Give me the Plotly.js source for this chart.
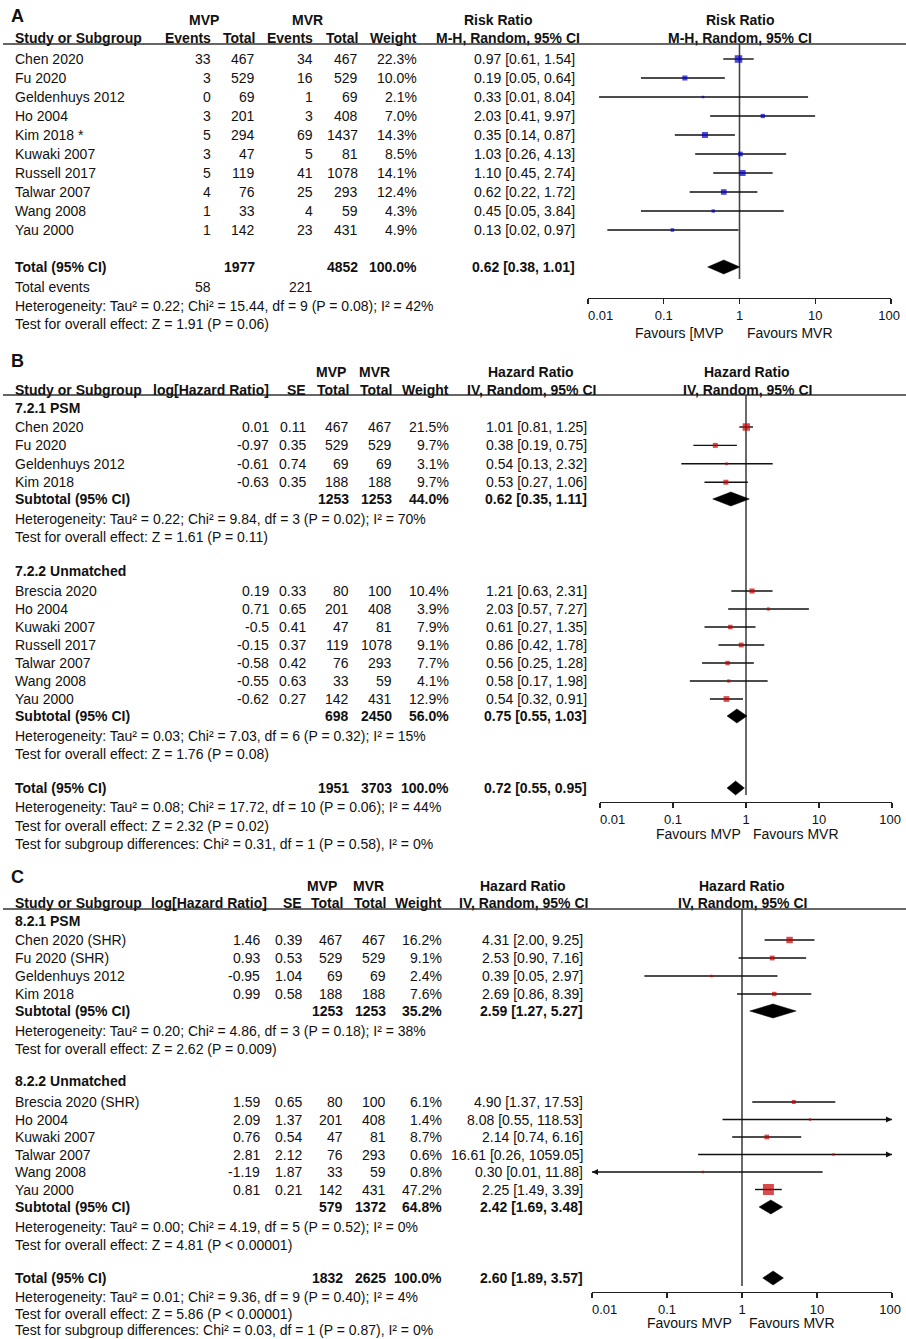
<!DOCTYPE html>
<html><head><meta charset="utf-8">
<script src="https://cdn.plot.ly/plotly-3.0.1.min.js"></script>
<style>html,body{margin:0;padding:0;background:#fff}#chart{width:906px;height:1339px}</style>
</head><body><div id="chart"></div>
<script>
// ================= DATA =================
// ---- Panel A (Risk Ratio, M-H random) ----
const studiesA = ["Chen 2020","Fu 2020","Geldenhuys 2012","Ho 2004","Kim 2018 *","Kuwaki 2007","Russell 2017","Talwar 2007","Wang 2008","Yau 2000"];
const mvpEventsA = [33,3,0,3,5,3,5,4,1,1];
const mvpTotalA = [467,529,69,201,294,47,119,76,33,142];
const mvrEventsA = [34,16,1,3,69,5,41,25,4,23];
const mvrTotalA = [467,529,69,408,1437,81,1078,293,59,431];
const weightA = [22.3,10.0,2.1,7.0,14.3,8.5,14.1,12.4,4.3,4.9];
const rrA = [0.97,0.19,0.33,2.03,0.35,1.03,1.10,0.62,0.45,0.13];
const lowA = [0.61,0.05,0.014,0.41,0.14,0.26,0.45,0.22,0.05,0.018];
const highA = [1.54,0.64,8.04,9.97,0.87,4.13,2.74,1.72,3.84,0.97];
const totalA = {mvpEvents:58, mvrEvents:221, mvpTotal:1977, mvrTotal:4852, weight:100.0, est:0.62, low:0.38, high:1.01};
const hetA = "Heterogeneity: Tau² = 0.22; Chi² = 15.44, df = 9 (P = 0.08); I² = 42%";
const testA = "Test for overall effect: Z = 1.91 (P = 0.06)";

// ---- Panel B (Hazard Ratio) ----
const studiesB1 = ["Chen 2020","Fu 2020","Geldenhuys 2012","Kim 2018"];
const logHRB1 = [0.01,-0.97,-0.61,-0.63];
const seB1 = [0.11,0.35,0.74,0.35];
const mvpB1 = [467,529,69,188];
const mvrB1 = [467,529,69,188];
const weightB1 = [21.5,9.7,3.1,9.7];
const hrB1 = [1.01,0.38,0.54,0.53];
const lowB1 = [0.81,0.19,0.13,0.27];
const highB1 = [1.25,0.75,2.32,1.06];
const subB1 = {mvp:1253, mvr:1253, weight:44.0, est:0.62, low:0.35, high:1.11};
const hetB1 = "Heterogeneity: Tau² = 0.22; Chi² = 9.84, df = 3 (P = 0.02); I² = 70%";
const testB1 = "Test for overall effect: Z = 1.61 (P = 0.11)";

const studiesB2 = ["Brescia 2020","Ho 2004","Kuwaki 2007","Russell 2017","Talwar 2007","Wang 2008","Yau 2000"];
const logHRB2 = [0.19,0.71,-0.5,-0.15,-0.58,-0.55,-0.62];
const seB2 = [0.33,0.65,0.41,0.37,0.42,0.63,0.27];
const mvpB2 = [80,201,47,119,76,33,142];
const mvrB2 = [100,408,81,1078,293,59,431];
const weightB2 = [10.4,3.9,7.9,9.1,7.7,4.1,12.9];
const hrB2 = [1.21,2.03,0.61,0.86,0.56,0.58,0.54];
const lowB2 = [0.63,0.57,0.27,0.42,0.25,0.17,0.32];
const highB2 = [2.31,7.27,1.35,1.78,1.28,1.98,0.91];
const subB2 = {mvp:698, mvr:2450, weight:56.0, est:0.75, low:0.55, high:1.03};
const hetB2 = "Heterogeneity: Tau² = 0.03; Chi² = 7.03, df = 6 (P = 0.32); I² = 15%";
const testB2 = "Test for overall effect: Z = 1.76 (P = 0.08)";

const totalB = {mvp:1951, mvr:3703, weight:100.0, est:0.72, low:0.55, high:0.95};
const footB = ["Heterogeneity: Tau² = 0.08; Chi² = 17.72, df = 10 (P = 0.06); I² = 44%",
               "Test for overall effect: Z = 2.32 (P = 0.02)",
               "Test for subgroup differences: Chi² = 0.31, df = 1 (P = 0.58), I² = 0%"];

// ---- Panel C (Hazard Ratio) ----
const studiesC1 = ["Chen 2020 (SHR)","Fu 2020 (SHR)","Geldenhuys 2012","Kim 2018"];
const logHRC1 = [1.46,0.93,-0.95,0.99];
const seC1 = [0.39,0.53,1.04,0.58];
const mvpC1 = [467,529,69,188];
const mvrC1 = [467,529,69,188];
const weightC1 = [16.2,9.1,2.4,7.6];
const hrC1 = [4.31,2.53,0.39,2.69];
const lowC1 = [2.00,0.90,0.05,0.86];
const highC1 = [9.25,7.16,2.97,8.39];
const subC1 = {mvp:1253, mvr:1253, weight:35.2, est:2.59, low:1.27, high:5.27};
const hetC1 = "Heterogeneity: Tau² = 0.20; Chi² = 4.86, df = 3 (P = 0.18); I² = 38%";
const testC1 = "Test for overall effect: Z = 2.62 (P = 0.009)";

const studiesC2 = ["Brescia 2020 (SHR)","Ho 2004","Kuwaki 2007","Talwar 2007","Wang 2008","Yau 2000"];
const logHRC2 = [1.59,2.09,0.76,2.81,-1.19,0.81];
const seC2 = [0.65,1.37,0.54,2.12,1.87,0.21];
const mvpC2 = [80,201,47,76,33,142];
const mvrC2 = [100,408,81,293,59,431];
const weightC2 = [6.1,1.4,8.7,0.6,0.8,47.2];
const hrC2 = [4.90,8.08,2.14,16.61,0.30,2.25];
const lowC2 = [1.37,0.55,0.74,0.26,0.0077,1.49];
const highC2 = [17.53,118.53,6.16,1059.05,11.88,3.39];
const subC2 = {mvp:579, mvr:1372, weight:64.8, est:2.42, low:1.69, high:3.48};
const hetC2 = "Heterogeneity: Tau² = 0.00; Chi² = 4.19, df = 5 (P = 0.52); I² = 0%";
const testC2 = "Test for overall effect: Z = 4.81 (P < 0.00001)";

const totalC = {mvp:1832, mvr:2625, weight:100.0, est:2.60, low:1.89, high:3.57};
const footC = ["Heterogeneity: Tau² = 0.01; Chi² = 9.36, df = 9 (P = 0.40); I² = 4%",
               "Test for overall effect: Z = 5.86 (P < 0.00001)",
               "Test for subgroup differences: Chi² = 0.03, df = 1 (P = 0.87), I² = 0%"];

const tickVals = [0.01,0.1,1,10,100];
const tickLabels = ["0.01","0.1","1","10","100"];

// ================= DRAWING =================
const W = 906, H = 1339;
const FONT = '"Liberation Sans", Arial, Helvetica, sans-serif';
const TXT = '#111111';
const ann = [], shapes = [], traces = [];
const AX_MIN = 0.01, AX_MAX = 100;

function T(s, x, y, anchor, opt) {
  opt = opt || {};
  ann.push({text: opt.bold ? '<b>' + s + '</b>' : s, xref:'paper', yref:'y', x:x/W, y:y,
    xanchor:anchor, yanchor:'middle', showarrow:false, borderpad:0,
    font:{family:FONT, size:opt.size || 14, color:TXT}});
}
function hline(y) {
  shapes.push({type:'line', xref:'paper', yref:'y', x0:3/W, x1:1, y0:y, y1:y, line:{color:'#333', width:1.3}});
}
const f2 = v => v.toFixed(2);
const ciTxt = (e,l,h) => f2(e) + ' [' + f2(l) + ', ' + f2(h) + ']';
const pct = w => w.toFixed(1) + '%';
const msize = w => Math.max(2.5, 1.6*Math.sqrt(w));

function refLine(xa, y0, y1) {
  traces.push({type:'scatter', mode:'lines', xaxis:xa, yaxis:'y', x:[1,1], y:[y0,y1],
    line:{color:'#444', width:1.6}, hoverinfo:'skip'});
}
function studyMarks(xa, ys, est, low, high, w, color) {
  const lx = [], ly = [];
  ys.forEach((y,i) => { lx.push(low[i], high[i], null); ly.push(y, y, null); });
  traces.push({type:'scatter', mode:'lines', xaxis:xa, yaxis:'y', x:lx, y:ly,
    line:{color:'#111', width:1.4}, hoverinfo:'skip'});
  ys.forEach((y,i) => {
    if (high[i] > AX_MAX) traces.push({type:'scatter', mode:'markers', xaxis:xa, yaxis:'y', x:[AX_MAX], y:[y],
      cliponaxis:false, marker:{symbol:'arrow-right', size:6, color:'#111', line:{width:0}}, hoverinfo:'skip'});
    if (low[i] < AX_MIN) traces.push({type:'scatter', mode:'markers', xaxis:xa, yaxis:'y', x:[AX_MIN], y:[y],
      cliponaxis:false, marker:{symbol:'arrow-left', size:6, color:'#111', line:{width:0}}, hoverinfo:'skip'});
  });
  traces.push({type:'scatter', mode:'markers', xaxis:xa, yaxis:'y', x:est, y:ys,
    marker:{symbol:'square', color:color, size:w.map(msize), line:{width:0}}, hoverinfo:'skip'});
}
function diamond(xa, y, s) {
  traces.push({type:'scatter', mode:'lines', xaxis:xa, yaxis:'y',
    x:[s.low, s.est, s.high, s.est, s.low], y:[y, y-7, y, y+7, y],
    fill:'toself', fillcolor:'#000', line:{color:'#000', width:0.5}, hoverinfo:'skip'});
}
function xAxis(x0, x1, y) {
  const tt = tickLabels.slice();
  tt[0] = '\u00A0'.repeat(7) + tt[0];
  tt[tt.length-1] = tt[tt.length-1] + '\u00A0';
  return {type:'log', domain:[x0/W, x1/W], range:[Math.log10(AX_MIN), Math.log10(AX_MAX)],
    anchor:'free', position:1 - y/H, showgrid:false, zeroline:false, showline:true,
    linecolor:'#222', linewidth:1.3, ticks:'outside', ticklen:5, tickwidth:1.3, tickcolor:'#222',
    tickmode:'array', tickvals:tickVals, ticktext:tt, ticklabeloverflow:'allow',
    tickfont:{family:FONT, size:13, color:TXT}, fixedrange:true};
}

// ---------- Panel A ----------
(function(){
  const xa = 'x';
  const c = {study:14, mvpE:212, mvpT:256, mvrE:314, mvrT:359, weight:418, ci:576, ciHead:508, plot:740};
  refLine(xa, 44, 279);
  T('A', 10, 16, 'left', {bold:true, size:18});
  T('MVP', 204, 20, 'center', {bold:true});
  T('MVR', 307, 20, 'center', {bold:true});
  T('Risk Ratio', 498, 20, 'center', {bold:true});
  T('Risk Ratio', c.plot, 20, 'center', {bold:true});
  T('Study or Subgroup', c.study, 38, 'left', {bold:true});
  T('Events', c.mvpE, 38, 'right', {bold:true});
  T('Total', c.mvpT, 38, 'right', {bold:true});
  T('Events', c.mvrE, 38, 'right', {bold:true});
  T('Total', c.mvrT, 38, 'right', {bold:true});
  T('Weight', c.weight, 38, 'right', {bold:true});
  T('M-H, Random, 95% CI', c.ciHead, 38, 'center', {bold:true});
  T('M-H, Random, 95% CI', c.plot, 38, 'center', {bold:true});
  hline(44);
  const ys = studiesA.map((_,i) => 59 + i*19);
  studiesA.forEach((s,i) => {
    T(s, c.study, ys[i], 'left');
    T(String(mvpEventsA[i]), c.mvpE, ys[i], 'right');
    T(String(mvpTotalA[i]), c.mvpT, ys[i], 'right');
    T(String(mvrEventsA[i]), c.mvrE, ys[i], 'right');
    T(String(mvrTotalA[i]), c.mvrT, ys[i], 'right');
    T(pct(weightA[i]), c.weight, ys[i], 'right');
    T(ciTxt(rrA[i], lowA[i], highA[i]), c.ci, ys[i], 'right');
  });
  studyMarks(xa, ys, rrA, lowA, highA, weightA, '#0000c8');
  T('Total (95% CI)', c.study, 267, 'left', {bold:true});
  T(String(totalA.mvpTotal), c.mvpT, 267, 'right', {bold:true});
  T(String(totalA.mvrTotal), c.mvrT, 267, 'right', {bold:true});
  T(pct(totalA.weight), c.weight, 267, 'right', {bold:true});
  T(ciTxt(totalA.est, totalA.low, totalA.high), c.ci, 267, 'right', {bold:true});
  diamond(xa, 267, totalA);
  T('Total events', c.study, 287, 'left');
  T(String(totalA.mvpEvents), c.mvpE, 287, 'right');
  T(String(totalA.mvrEvents), c.mvrE, 287, 'right');
  T(hetA, c.study, 306, 'left');
  T(testA, c.study, 324, 'left');
  T('Favours [MVP', 725, 333, 'right');
  T('Favours MVR', 746, 333, 'left');
})();

// ---------- Panels B and C ----------
function hrPanel(o) {
  const c = o.cols;
  refLine(o.xa, o.yLine, o.vBottom);
  T(o.letter, 10, o.yLetter, 'left', {bold:true, size:18});
  T('MVP', c.mvpHead, o.yH1, 'center', {bold:true});
  T('MVR', c.mvrHead, o.yH1, 'center', {bold:true});
  T('Hazard Ratio', c.ciHead, o.yH1, 'center', {bold:true});
  T('Hazard Ratio', c.plot, o.yH1, 'center', {bold:true});
  T('Study or Subgroup', c.study, o.yH2, 'left', {bold:true});
  T('log[Hazard Ratio]', c.loghrHead, o.yH2, 'right', {bold:true});
  T('SE', c.se, o.yH2, 'right', {bold:true});
  T('Total', c.mvp, o.yH2, 'right', {bold:true});
  T('Total', c.mvr, o.yH2, 'right', {bold:true});
  T('Weight', c.weight, o.yH2, 'right', {bold:true});
  T('IV, Random, 95% CI', c.ciHead, o.yH2, 'center', {bold:true});
  T('IV, Random, 95% CI', c.plot, o.yH2, 'center', {bold:true});
  hline(o.yLine);
  o.groups.forEach(g => {
    T(g.title, c.study, g.yTitle, 'left', {bold:true});
    const ys = g.studies.map((_,i) => g.y0 + i*g.step);
    g.studies.forEach((s,i) => {
      T(s, c.study, ys[i], 'left');
      T(String(g.loghr[i]), c.loghr, ys[i], 'right');
      T(String(g.se[i]), c.se, ys[i], 'right');
      T(String(g.mvp[i]), c.mvp, ys[i], 'right');
      T(String(g.mvr[i]), c.mvr, ys[i], 'right');
      T(pct(g.weight[i]), c.weight, ys[i], 'right');
      T(ciTxt(g.hr[i], g.low[i], g.high[i]), c.ci, ys[i], 'right');
    });
    studyMarks(o.xa, ys, g.hr, g.low, g.high, g.weight, '#c80000');
    const s = g.sub;
    T('Subtotal (95% CI)', c.study, g.ySub, 'left', {bold:true});
    T(String(s.mvp), c.mvp, g.ySub, 'right', {bold:true});
    T(String(s.mvr), c.mvr, g.ySub, 'right', {bold:true});
    T(pct(s.weight), c.weight, g.ySub, 'right', {bold:true});
    T(ciTxt(s.est, s.low, s.high), c.ci, g.ySub, 'right', {bold:true});
    diamond(o.xa, g.ySub, s);
    T(g.het, c.study, g.ySub + 20, 'left');
    T(g.test, c.study, g.ySub + 38, 'left');
  });
  const t = o.total;
  T('Total (95% CI)', c.study, o.yTotal, 'left', {bold:true});
  T(String(t.mvp), c.mvp, o.yTotal, 'right', {bold:true});
  T(String(t.mvr), c.mvr, o.yTotal, 'right', {bold:true});
  T(pct(t.weight), c.weight, o.yTotal, 'right', {bold:true});
  T(ciTxt(t.est, t.low, t.high), c.ci, o.yTotal, 'right', {bold:true});
  diamond(o.xa, o.yTotal, t);
  o.foot.forEach((s,i) => T(s, c.study, o.yTotal + 19 + i*o.footStep, 'left'));
  T('Favours MVP', o.favL, o.yFav, 'right');
  T('Favours MVR', o.favR, o.yFav, 'left');
}

hrPanel({
  xa:'x2', letter:'B', yLetter:361, yH1:372, yH2:390, yLine:395, vBottom:795,
  cols:{study:14, loghr:270, loghrHead:270, se:307, mvp:350, mvr:393, weight:450, ci:588,
        mvpHead:331, mvrHead:374, ciHead:531, plot:747},
  groups:[
    {title:'7.2.1 PSM', yTitle:408, y0:427, step:18.4, ySub:499,
     studies:studiesB1, loghr:logHRB1, se:seB1, mvp:mvpB1, mvr:mvrB1, weight:weightB1,
     hr:hrB1, low:lowB1, high:highB1, sub:subB1, het:hetB1, test:testB1},
    {title:'7.2.2 Unmatched', yTitle:571, y0:591, step:18, ySub:716,
     studies:studiesB2, loghr:logHRB2, se:seB2, mvp:mvpB2, mvr:mvrB2, weight:weightB2,
     hr:hrB2, low:lowB2, high:highB2, sub:subB2, het:hetB2, test:testB2}
  ],
  yTotal:788, total:totalB, foot:footB, footStep:18.5, favL:742, favR:752, yFav:834
});

hrPanel({
  xa:'x3', letter:'C', yLetter:877, yH1:886, yH2:903, yLine:909, vBottom:1286,
  cols:{study:14, loghr:261, loghrHead:268, se:303, mvp:344, mvr:387, weight:443, ci:584,
        mvpHead:322, mvrHead:368, ciHead:523, plot:742},
  groups:[
    {title:'8.2.1 PSM', yTitle:921, y0:940, step:18, ySub:1011,
     studies:studiesC1, loghr:logHRC1, se:seC1, mvp:mvpC1, mvr:mvrC1, weight:weightC1,
     hr:hrC1, low:lowC1, high:highC1, sub:subC1, het:hetC1, test:testC1},
    {title:'8.2.2 Unmatched', yTitle:1081, y0:1102, step:17.5, ySub:1207,
     studies:studiesC2, loghr:logHRC2, se:seC2, mvp:mvpC2, mvr:mvrC2, weight:weightC2,
     hr:hrC2, low:lowC2, high:highC2, sub:subC2, het:hetC2, test:testC2}
  ],
  yTotal:1278, total:totalC, foot:footC, footStep:16.5, favL:733, favR:748, yFav:1323
});

const layout = {
  width:W, height:H, margin:{l:0, r:0, t:0, b:0},
  paper_bgcolor:'#ffffff', plot_bgcolor:'rgba(0,0,0,0)', showlegend:false, hovermode:false,
  xaxis:xAxis(588, 891, 298),
  xaxis2:xAxis(600, 892, 802),
  xaxis3:xAxis(592, 892, 1292),
  yaxis:{range:[H, 0], domain:[0, 1], visible:false, fixedrange:true},
  annotations:ann, shapes:shapes
};
Plotly.newPlot('chart', traces, layout, {staticPlot:true, displayModeBar:false});
</script>
</body></html>
